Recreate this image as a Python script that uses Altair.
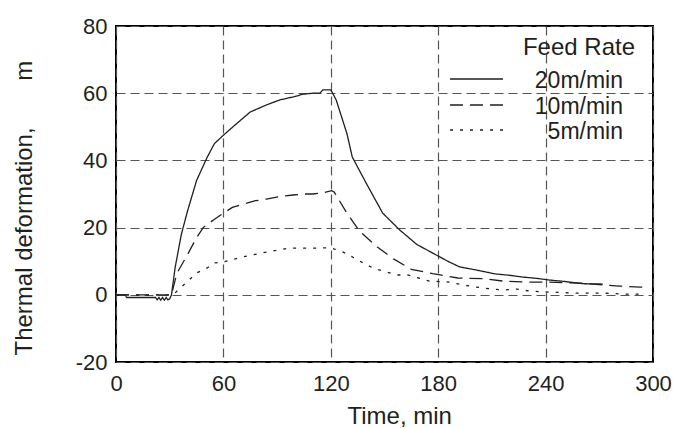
import altair as alt
import pandas as pd

# Thermal deformation measured at three feed rates (time in min, deformation in um)
t_20 = [0, 5, 6, 22, 23, 24, 25, 26, 27, 28, 29, 30, 31, 33, 36.5, 40, 45, 51, 55, 60,
        67.5, 75, 84, 91.5, 99, 104.5, 110, 114, 115.5, 120, 123, 129, 132, 140, 149,
        158.5, 168, 177, 186, 192, 201, 212, 220, 227, 235, 242, 250, 261, 272]
v_20 = [0, 0, -0.8, -0.8, -1.5, -0.8, -1.6, -0.8, -1.6, -0.8, -1.5, -1.2, 0, 8, 18, 25,
        34, 41, 45, 47.5, 51, 54.4, 56.5, 58, 58.9, 59.7, 60, 60, 61, 61, 58, 48, 41,
        33, 24.3, 19.3, 15, 12.4, 9.8, 8.3, 7.4, 6.2, 5.8, 5.3, 4.9, 4.4, 4, 3.3, 3.2]

t_10 = [0, 30, 31, 34, 40, 45, 48.7, 55, 60, 65, 71, 78, 84, 91, 99, 105, 110, 115,
        120.5, 122, 129, 136, 146, 155, 165, 177, 191, 205, 216, 229, 240, 259, 270,
        281, 293, 296]
v_10 = [0, 0, 0, 6.4, 12, 17, 20, 22.5, 24.3, 26, 27, 28, 28.5, 29.2, 29.7, 30, 30,
        30.3, 31, 30.5, 24.3, 19, 14.2, 10.7, 7.6, 6.3, 5, 4.8, 4.1, 3.8, 3.8, 3.5, 3,
        2.6, 2.3, 2.3]

t_5 = [0, 32, 34.6, 39.6, 45, 51, 55, 60, 71, 84, 97, 110, 120, 127, 133, 138, 143.5,
       151, 157, 163, 169, 175, 186, 194, 205, 216, 224, 231, 242, 257, 272, 285, 295]
v_5 = [0, 0, 1.4, 3.8, 6.5, 8, 9.5, 9.8, 11.3, 12.7, 13.9, 13.9, 14, 12.7, 11, 9.5, 8,
       6.8, 5.9, 5.9, 5, 4.1, 3.8, 2.9, 2, 1.4, 1.7, 1.1, 0.8, 0.5, 0.5, 0.2, 0.2]

series_names = ["20m/min", "10m/min", "5m/min"]
x_ticks = [0, 60, 120, 180, 240, 300]
y_ticks = [-20, 0, 20, 40, 60, 80]

FONT = "Liberation Sans"
INK = "#231f20"
DASHES = [[1, 0], [13, 7], [3, 7]]

frames = []
for name, ts, vs in zip(series_names, [t_20, t_10, t_5], [v_20, v_10, v_5]):
    frames.append(pd.DataFrame({"time": ts, "deform": vs, "rate": name}))
data = pd.concat(frames, ignore_index=True)

W, H = 537, 336

curves = alt.Chart(data).mark_line(strokeWidth=1.3, color=INK, clip=True).encode(
    x=alt.X("time:Q",
            scale=alt.Scale(domain=[0, 300], nice=False),
            axis=alt.Axis(values=x_ticks, title="Time, min", labelPadding=21,
                          labelBaseline="middle", titleX=231, titleY=61,
                          titleAlign="left", titleBaseline="alphabetic",
                          labelFlush=False, labelExpr="'' + datum.value")),
    y=alt.Y("deform:Q",
            scale=alt.Scale(domain=[-20, 80], nice=False),
            axis=alt.Axis(values=y_ticks,
                          title="Thermal deformation," + "\u00a0" * 7 + "m",
                          labelPadding=9, titleX=-85, titleY=329,
                          titleAlign="left", titleBaseline="alphabetic",
                          titleAngle=-90, labelFlush=False,
                          labelExpr="'' + datum.value")),
    strokeDash=alt.StrokeDash("rate:N",
                              scale=alt.Scale(domain=series_names, range=DASHES),
                              legend=None),
    detail="rate:N",
    order="time:Q",
)

# hand-drawn legend box in the upper right corner of the plot
legend_layers = [
    alt.Chart().mark_text(text="Feed Rate", align="right", baseline="alphabetic",
                          font=FONT, fontSize=24, color=INK)
    .encode(x=alt.value(519), y=alt.value(29))
]
rows = [(53, 62), (79, 88), (104, 113)]
for name, dash, (ly, ty) in zip(series_names, DASHES, rows):
    legend_layers.append(
        alt.Chart().mark_rule(strokeWidth=1.3, color=INK, strokeDash=dash)
        .encode(x=alt.value(334), x2=alt.value(387), y=alt.value(ly))
    )
    legend_layers.append(
        alt.Chart().mark_text(text=name, align="right", baseline="alphabetic",
                              font=FONT, fontSize=23, color=INK)
        .encode(x=alt.value(507), y=alt.value(ty))
    )

chart = alt.layer(curves, *legend_layers).properties(
    width=W, height=H,
    autosize=alt.AutoSizeParams(type="none"),
    padding={"left": 116, "top": 26, "right": 25, "bottom": 66},
).configure_view(
    stroke="black", strokeWidth=2
).configure_axis(
    domain=False, ticks=False,
    grid=True, gridColor="#555555", gridDash=[9, 5], gridWidth=1.2,
    labelFont=FONT, labelFontSize=22, labelColor=INK,
    titleFont=FONT, titleFontSize=24, titleColor=INK, titleFontWeight="normal",
)

chart.save("out.html", embed_options={"renderer": "svg", "actions": False})
